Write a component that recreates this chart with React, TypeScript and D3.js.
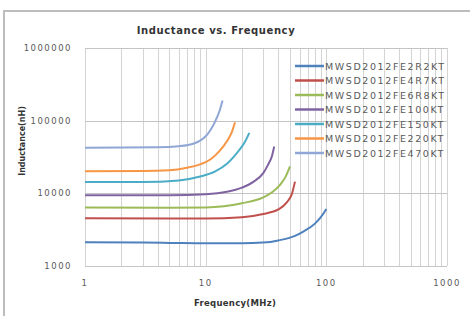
import React, { useRef, useEffect } from 'react'
import * as d3 from 'd3'

// Inductance vs. Frequency, log / log, one curve per part number
const partNames = [
  'MWSD2012FE2R2KT',
  'MWSD2012FE4R7KT',
  'MWSD2012FE6R8KT',
  'MWSD2012FE100KT',
  'MWSD2012FE150KT',
  'MWSD2012FE220KT',
  'MWSD2012FE470KT',
]
const seriesColors = ['#4F81BD', '#C0504D', '#9BBB59', '#8064A2', '#4BACC6', '#F79646', '#8FA6D6']

// [MHz, nH]
const s2R2 = [[1, 2120], [3, 2100], [5, 2080], [10, 2050], [20, 2050], [30, 2100], [40, 2250], [55, 2600], [65, 3000], [80, 3800], [90, 4700], [100, 6100]]
const s4R7 = [[1, 4550], [5, 4500], [10, 4500], [20, 4700], [30, 5200], [40, 6000], [47, 7500], [52, 10000], [55, 14500]]
const s6R8 = [[1, 6400], [5, 6350], [10, 6400], [20, 7300], [30, 8800], [36, 10500], [42, 13500], [46, 17000], [50, 23500]]
const s100 = [[1, 9400], [5, 9400], [10, 9700], [15, 10500], [20, 12000], [25, 14500], [30, 19000], [33, 25000], [35.5, 33000], [37, 44000]]
const s150 = [[1, 14300], [3, 14300], [6, 15000], [9, 17000], [12, 20000], [15, 25500], [17, 31500], [19, 39500], [21, 50000], [23, 68000]]
const s220 = [[1, 20200], [3, 20300], [5, 20800], [7, 22500], [9, 25000], [11, 29500], [13, 38000], [15, 52000], [16.5, 70000], [17.5, 95000]]
const s470 = [[1, 42500], [4, 43000], [6, 44500], [8, 48500], [9, 53000], [10, 61000], [11, 75000], [12, 98000], [13, 135000], [13.8, 190000]]
const seriesData = [s2R2, s4R7, s6R8, s100, s150, s220, s470]

const yTicks = [1000, 10000, 100000, 1000000]
const xTicks = [1, 10, 100, 1000]
const xMinor = [2, 3, 4, 5, 6, 7, 8, 9, 20, 30, 40, 50, 60, 70, 80, 90, 200, 300, 400, 500, 600, 700, 800, 900]

export default function App() {
  const svgRef = useRef<SVGSVGElement>(null)

  useEffect(() => {
    const svg = d3.select(svgRef.current)
    svg.selectAll('*').remove()

    const width = 470
    const height = 316
    const x = d3.scaleLog().domain([1, 1000]).range([85, 447])
    const y = d3.scaleLog().domain([1000, 1000000]).range([266, 48])
    const font = 'DejaVu Sans, Arial, sans-serif'

    svg.append('rect').attr('width', width).attr('height', height).attr('fill', '#fff')
    // contour du graphique (coupé à droite et en bas)
    svg.append('rect')
      .attr('x', 4).attr('y', 11).attr('width', 500).attr('height', 340)
      .attr('fill', '#fff').attr('stroke', '#bdbdbd').attr('stroke-width', 2)

    // grilles
    const grid = svg.append('g')
    xTicks.concat(xMinor).forEach((d) => {
      const gx = Math.round(x(d)) + 0.5
      grid.append('line')
        .attr('x1', gx).attr('x2', gx)
        .attr('y1', y(1000000)).attr('y2', y(1000))
        .attr('stroke', '#d4d4d4').attr('stroke-width', 1)
    })
    yTicks.forEach((d) => {
      const gy = Math.round(y(d)) + 0.5
      grid.append('line')
        .attr('x1', x(1)).attr('x2', x(1000))
        .attr('y1', gy).attr('y2', gy)
        .attr('stroke', '#c4c4c4').attr('stroke-width', 1)
    })

    // courbes
    const line = d3.line<number[]>()
      .x((d) => x(d[0]))
      .y((d) => y(d[1]))
      .curve(d3.curveMonotoneX)
    seriesData.forEach((s, i) => {
      svg.append('path')
        .attr('d', line(s))
        .attr('fill', 'none')
        .attr('stroke', seriesColors[i])
        .attr('stroke-width', 2)
    })

    // étiquettes d'axes
    yTicks.forEach((d) => {
      svg.append('text')
        .attr('x', 72).attr('y', y(d) + 3)
        .attr('text-anchor', 'end')
        .attr('fill', '#595959')
        .style('font-family', font).style('font-size', '8.5px').style('letter-spacing', '1.5px')
        .text(`${d}`)
    })
    xTicks.forEach((d) => {
      svg.append('text')
        .attr('x', x(d)).attr('y', 286)
        .attr('text-anchor', 'middle')
        .attr('fill', '#595959')
        .style('font-family', font).style('font-size', '8.5px').style('letter-spacing', '1.5px')
        .text(`${d}`)
    })

    svg.append('text')
      .attr('x', 216).attr('y', 34)
      .attr('text-anchor', 'middle').attr('fill', '#333')
      .style('font-family', font).style('font-size', '10px').style('font-weight', 'bold')
      .style('letter-spacing', '0.6px')
      .text('Inductance vs. Frequency')
    svg.append('text')
      .attr('x', 235).attr('y', 306)
      .attr('text-anchor', 'middle').attr('fill', '#333')
      .style('font-family', font).style('font-size', '8.5px').style('font-weight', 'bold')
      .style('letter-spacing', '0.3px')
      .text('Frequency(MHz)')
    svg.append('text')
      .attr('transform', 'translate(25, 141) rotate(-90)')
      .attr('text-anchor', 'middle').attr('fill', '#333')
      .style('font-family', font).style('font-size', '8px').style('font-weight', 'bold')
      .text('Inductance(nH)')

    // légende
    const legend = svg.append('g')
    partNames.forEach((name, i) => {
      const ly = 66 + i * 14.5
      legend.append('line')
        .attr('x1', 295).attr('x2', 324).attr('y1', ly).attr('y2', ly)
        .attr('stroke', seriesColors[i]).attr('stroke-width', 2.5)
      legend.append('text')
        .attr('x', 325).attr('y', ly + 3.5)
        .attr('fill', '#595959')
        .style('font-family', font).style('font-size', '9.5px').style('letter-spacing', '1.6px')
        .text(name)
    })
  }, [])

  return (
    <svg ref={svgRef} width={470} height={316} style={{ position: 'fixed', left: 0, top: 0 }} />
  )
}
